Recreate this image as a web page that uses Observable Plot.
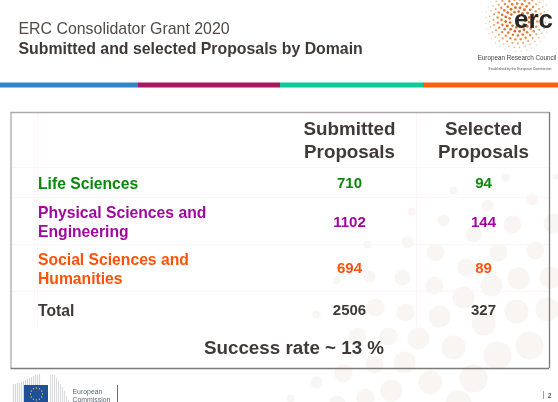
<!DOCTYPE html>
<html><head><meta charset="utf-8">
<script src="https://cdn.jsdelivr.net/npm/d3@7"></script>
<script src="https://cdn.jsdelivr.net/npm/@observablehq/plot@0.6"></script>
<style>
html,body{margin:0;padding:0;background:#fff;overflow:hidden}
svg{display:block;filter:blur(0.4px)}
</style></head><body>
<script>
// ---- chart content
const titleLine = "ERC Consolidator Grant 2020";
const subtitleLine = "Submitted and selected Proposals by Domain";
const columns = ["Submitted\nProposals", "Selected\nProposals"];
const domains = ["Life Sciences", "Physical Sciences and\nEngineering", "Social Sciences and\nHumanities", "Total"];
const submitted = [710, 1102, 694, 2506];
const selected = [94, 144, 89, 327];
const footerNote = "Success rate ~ 13 %";

// ---- slide layout (styles and positions, separate from the data)
const domainColors = ["#078a0a", "#a0079f", "#ff5208", "#3f3a38"];
const labelY = [182.5, 220.5, 267.5, 309.5];
const valueY = [183, 222, 268, 310];
const colX = [349, 483];
const bandEdges = [0, 138, 280, 423, 558];
const bandColors = ["#2e86c8", "#a8175f", "#0ccb9a", "#ff5f0a"];
const gridY = [167, 197, 244, 291];
const gridX = [37, 416];
const bgDots = [[402,277,8],[369,276,6],[336,280,4],[434,285,9],[491,285,11],[518,278,11],[466,267,9],[550,277,11],
 [435,252,9],[498,252,9],[535,250,9],[463,297,11],[375,307,9],[405,312,9],[439,316,11],[483,323,12],[516,311,12],
 [547,309,12],[316,314,4],[357,336,9],[388,336,9],[418,338,11],[453,347,12],[497,355,14],[529,345,14],[374,364,9],
 [404,362,11],[343,373,9],[316,382,6],[391,390,11],[430,382,12],[473,378,14],[290,398,4],[365,397,9],[337,403,8],
 [458,403,13],[505,177,4],[453,190,4],[532,199,6],[487,205,6],[411,211,4],[443,220,6],[512,224,9],[473,234,8],
 [553,223,10],[555,176,3],[367,244,4],[407,242,6]];

// ERC logo sunburst: rings of small orange dots
const logoDots = [];
for (const [rr, n, sz, col] of [[8,12,1.3,"#dd6a1e"],[12,16,1.4,"#dd6a1e"],[16,20,1.3,"#e2792f"],[20,24,1.2,"#e58a48"],[24,28,1.05,"#eba26c"],[28,32,.85,"#f0bb94"],[32,36,.7,"#f5d3bb"]]) {
  for (let i = 0; i < n; i++) {
    const a = i / n * 2 * Math.PI + rr;
    logoDots.push({x: 517 + rr * Math.cos(a), y: 19 + rr * Math.sin(a), r: sz, c: col});
  }
}
const euStars = d3.range(12).map(i => ({x: 36 + 6 * Math.cos(i * Math.PI / 6), y: 393.5 + 6 * Math.sin(i * Math.PI / 6)}));
const buildingLeft = [[13,384],[15,384],[17,383],[19,383],[21,382],[23,381],[25,380],[27,379],[29,378],[31,377],[33,376],[35,375],[37,375],[39,374]];
const buildingRight = [[50,375],[52,374],[54,375],[56,378],[58,381],[60,384],[62,387],[64,391],[66,396],[68,400]];

const F = "Liberation Sans, Arial, sans-serif";
const dark = "#3f3a38";
const T = (rows, o) => Plot.text(rows, {x: "x", y: "y", text: "t", fontFamily: F, lineHeight: 1.0, ...o});

const plot = Plot.plot({
  width: 558, height: 402, margin: 0,
  x: {type: "identity", axis: null},
  y: {type: "identity", axis: null},
  r: {type: "identity"},
  marks: [
    // background dots
    Plot.dot(bgDots, {x: d => d[0], y: d => d[1], r: d => d[2], fill: "#f8f5f3", stroke: "none"}),
    // colour band
    Plot.rect(bandColors, {x1: (d, i) => bandEdges[i], x2: (d, i) => bandEdges[i + 1], y1: 82.5, y2: 87.5, fill: d => d}),
    // table grid
    Plot.ruleY(gridY, {x1: 12, x2: 548, y: d => d, stroke: "#fbf6f5", strokeWidth: 1}),
    Plot.ruleX(gridX, {x: d => d, y1: 113, y2: 327, stroke: "#fbf6f5", strokeWidth: 1}),
    // table frame: lighter top and left, darker bottom and right
    Plot.ruleY([112], {x1: 10.5, x2: 549, y: d => d, stroke: "#aeaaa9", strokeWidth: 1.3}),
    Plot.ruleX([10.5], {x: d => d, y1: 112, y2: 368, stroke: "#aeaaa9", strokeWidth: 1.3}),
    Plot.ruleY([368], {x1: 10.5, x2: 549, y: d => d, stroke: "#7e7a78", strokeWidth: 1.3}),
    Plot.ruleX([549], {x: d => d, y1: 112, y2: 368, stroke: "#7e7a78", strokeWidth: 1.3}),
    // titles
    T([{x: 18, y: 28, t: titleLine}], {textAnchor: "start", fontSize: 15.9, fill: "#504b49"}),
    T([{x: 18, y: 48, t: subtitleLine}], {textAnchor: "start", fontSize: 15.85, fontWeight: 700, fill: dark}),
    // column headers
    T(columns.map((t, i) => ({x: colX[i], y: 139, t})), {fontSize: 18.8, fontWeight: 700, fill: dark, lineHeight: 1.22}),
    // rows
    T(domains.map((t, i) => ({x: 37.5, y: labelY[i], t, c: domainColors[i]})), {textAnchor: "start", fontSize: 15.7, fontWeight: 700, fill: "c", lineHeight: 1.21}),
    T(submitted.map((v, i) => ({x: colX[0], y: valueY[i], t: String(v), c: domainColors[i]})), {fontSize: 15, fontWeight: 700, fill: "c"}),
    T(selected.map((v, i) => ({x: colX[1], y: valueY[i], t: String(v), c: domainColors[i]})), {fontSize: 15, fontWeight: 700, fill: "c"}),
    T([{x: 293.5, y: 347.5, t: footerNote}], {fontSize: 18.8, fontWeight: 700, fill: dark}),
    // ERC logo
    Plot.dot(logoDots, {x: "x", y: "y", r: "r", fill: "c", stroke: "none"}),
    T([{x: 533, y: 19, t: "erc"}], {fontSize: 26, fontWeight: 700, fill: "#2a2624", stroke: "none"}),
    T([{x: 516.5, y: 57.5, t: "European Research Council"}], {fontSize: 6.3, fill: "#444"}),
    T([{x: 519.5, y: 68, t: "Established by the European Commission"}], {fontSize: 3.4, fill: "#555"}),
    // EU footer
    Plot.ruleX(buildingLeft, {x: d => d[0], y1: d => d[1], y2: 402, stroke: "#d4d6d8", strokeWidth: 1.1}),
    Plot.ruleX(buildingRight, {x: d => d[0], y1: d => d[1], y2: 402, stroke: "#dcdee0", strokeWidth: 1.2}),
    Plot.rect([0], {x1: 24, x2: 48, y1: 385, y2: 402, fill: "#1f4f97"}),
    Plot.dot(euStars, {x: "x", y: "y", r: 0.7, fill: "#d8c93a", stroke: "none"}),
    T([{x: 72, y: 391, t: "European"}, {x: 72, y: 399.5, t: "Commission"}], {textAnchor: "start", fontSize: 6.9, fill: "#5c6670"}),
    Plot.ruleX([117], {x: d => d, y1: 385, y2: 402, stroke: "#3b78b5", strokeWidth: 1}),
    Plot.ruleX([543], {x: d => d, y1: 391, y2: 399, stroke: "#7fa8c9", strokeWidth: 1}),
    T([{x: 549, y: 395, t: "2"}], {fontSize: 6.5, fontWeight: 700, fill: "#555"})
  ]
});
document.body.append(plot);
</script>
</body></html>
